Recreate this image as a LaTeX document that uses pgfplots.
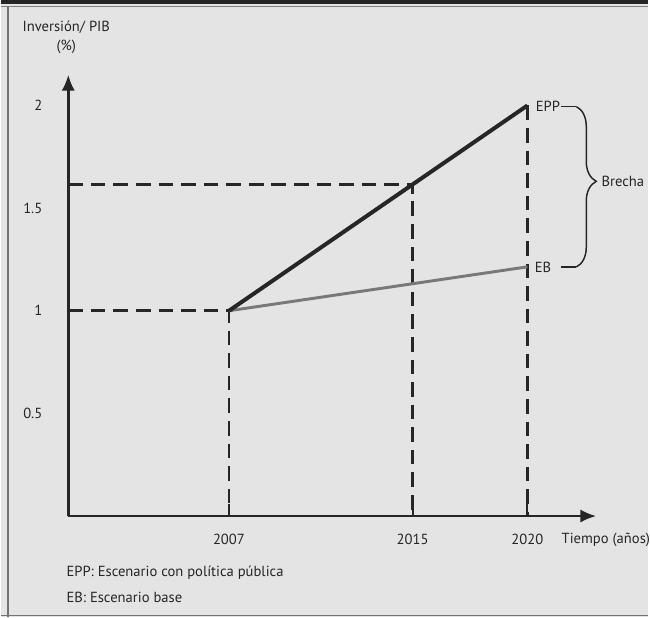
\documentclass[border=0pt]{standalone}
\usepackage{fontspec}
\setmainfont{PT Sans}
\usepackage{pgfplots}
\pgfplotsset{compat=1.18}
\usetikzlibrary{arrows.meta,decorations.pathreplacing}
\definecolor{bg}{HTML}{E4E4E4}
\definecolor{ink}{HTML}{262626}
\definecolor{ebgray}{HTML}{787878}

\begin{document}
\begin{tikzpicture}[font=\fontsize{11}{13}\selectfont]
% background / frame, in pixel units (y down)
\begin{scope}[x=0.75pt,y=-0.75pt]
  \fill[bg] (0,0) rectangle (650,619);
  \fill[ink] (0,0) rectangle (650,4);
  \draw[gray,line width=0.6pt] (0,6.5)--(650,6.5);
  \draw[black!55,line width=1pt] (7.5,6.5)--(7.5,619);
  \draw[black!55,line width=0.8pt] (0,618)--(650,618);
  \path[use as bounding box] (0,0) rectangle (650,619);
\end{scope}

\begin{axis}[
  at={(51pt,-388.5pt)}, anchor=south west,
  scale only axis, width=397.5pt, height=332.25pt,
  xmin=2000, xmax=2023, ymin=0, ymax=2.15,
  axis lines=left,
  axis line style={line width=2pt, ink, -{Latex[length=12pt,width=10pt]}},
  xtick={2007,2015,2020}, xticklabels={2007,2015,2020},
  ytick={0.5,1,1.5,2}, yticklabels={0.5,1,1.5,2},
  tick align=inside,
  major tick length=9pt,
  xtick style={line width=1.5pt, ink},
  ytick style={draw=none},
  every tick label/.append style={font=\fontsize{11}{13}\selectfont, text=ink},
  yticklabel style={xshift=-16pt},
  xticklabel style={yshift=-10pt},
  clip=false,
]
  % guide lines
  \addplot[ink, line width=2pt, dash pattern=on 11pt off 6pt] coordinates {(2000,1) (2007,1) (2007,0)};
  \addplot[ink, line width=2pt, dash pattern=on 11pt off 6pt] coordinates {(2000,1.615) (2015,1.615) (2015,0)};
  \addplot[ink, line width=2pt, dash pattern=on 11pt off 6pt] coordinates {(2020,2) (2020,0)};
  % scenarios
  \addplot[ebgray, line width=2.2pt] coordinates {(2007,1) (2020,1.214)};
  \addplot[ink, line width=3pt] coordinates {(2007,1) (2020,2)};
\end{axis}

\begin{scope}[x=0.75pt,y=-0.75pt, every node/.style={inner sep=0pt, text=ink}]
  \node at (66,27) {Inversión/ PIB};
  \node at (66,47) {(\%)};
  \node[anchor=west] at (537,107) {EPP};
  \node[anchor=west] at (536,268) {EB};
  \node[anchor=west] at (603,182) {Brecha};
  \node[anchor=west] at (563,542) {Tiempo (años)};
  \node[anchor=west] at (66,575) {EPP: Escenario con política pública};
  \node[anchor=west] at (66,600) {EB: Escenario base};
  \draw[ink, line width=1.1pt] (563,107)--(578,107) (563,268)--(578,268);
  \draw[ink, line width=1.1pt, decorate, decoration={brace, amplitude=15pt, aspect=0.466}] (578,107)--(578,268);
\end{scope}
\end{tikzpicture}
\end{document}
